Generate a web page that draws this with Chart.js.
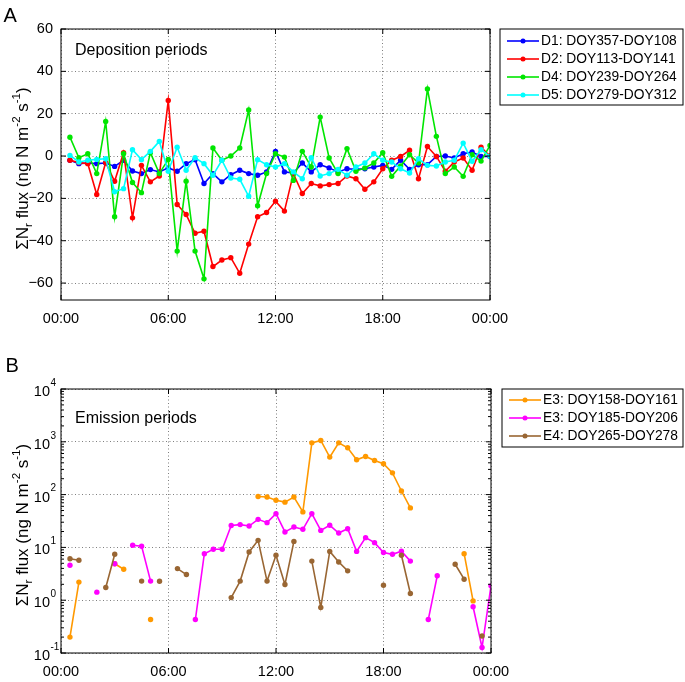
<!doctype html>
<html>
<head>
<meta charset="UTF-8">
<title>Nr flux diurnal courses</title>
<script src="https://cdn.jsdelivr.net/npm/chart.js@4.4.0/dist/chart.umd.min.js"></script>
<style>
  body { margin: 0; background: #fff; }
  #wrap { position: relative; width: 685px; height: 682px; }
  #wrap canvas { position: absolute; left: 0; }
</style>
</head>
<body>
<div id="wrap">
  <canvas id="chartA" width="685" height="341" style="top:0"></canvas>
  <canvas id="chartB" width="685" height="341" style="top:341px"></canvas>
</div>
<script>
// half-hourly time of day (h)
var HOURS = [0.5, 1, 1.5, 2, 2.5, 3, 3.5, 4, 4.5, 5, 5.5, 6,
             6.5, 7, 7.5, 8, 8.5, 9, 9.5, 10, 10.5, 11, 11.5, 12,
             12.5, 13, 13.5, 14, 14.5, 15, 15.5, 16, 16.5, 17, 17.5, 18,
             18.5, 19, 19.5, 20, 20.5, 21, 21.5, 22, 22.5, 23, 23.5, 24];
var X_TICKS = [0, 6, 12, 18, 24];

// panel A - deposition periods (ng N m-2 s-1)
var LABELS_A = ['D1: DOY357-DOY108', 'D2: DOY113-DOY141', 'D4: DOY239-DOY264', 'D5: DOY279-DOY312'];
var D1 = [-2, -3.6, -3.3, -3.6, -3.3, -4.9, -2, -7.1, -8.3, -6.4, -7.5, -5.6,
          -7.2, -3.6, -1.7, -13, -8.3, -12.2, -8.8, -6.7, -8.3, -9.1, -7.5, 2.2,
          -7.5, -8, -3.3, -7.5, -4.1, -5.6, -7.5, -6, -6.3, -6, -5.2, -4.4,
          -6.3, -2, -6.3, -4.1, -4.1, -0.2, 0, -0.9, 1.1, 1.9, -0.2, -0.2];
var D2 = [-2, -3.1, -3.6, -18.2, -3.1, -11.9, 1.6, -29.2, -4.4, -12.2, -9.4, 26.2,
          -22.9, -27.6, -36.5, -35.5, -52.2, -49.1, -48, -55.4, -41.6, -28.7, -26.7, -21.3,
          -26, -8.3, -17.7, -13, -14.1, -13.5, -13, -9.4, -10.7, -15.7, -12.2, -6,
          -2, -0.2, 2.7, -10.7, 4.5, -0.2, -7.2, -2.8, -0.9, -6.7, 4.2, 0];
var D4 = [8.9, -0.8, 1.1, -8.3, 16.3, -28.7, 1.1, -12.5, -17.3, 1.6, -8.3, -1.6,
          -44.9, -11.9, -44.9, -58, 3.8, -2, 0, 3.8, 21.8, -23.5, -8.3, 1.1,
          -0.5, -11.5, 2.2, -5.2, 18.4, -0.9, -8.3, 3.5, -7.2, -5.6, -3.3, 1.6,
          -9.6, -4.7, 0.6, -3.3, 31.7, 9.3, -8.3, -5.2, -9.6, 0.6, -2.4, 5];
var D5 = [0.3, -2.8, -2, -1.6, -1.3, -16.9, -15.4, 3, -1.7, 2.2, 6.9, -7.2,
          4.2, -6.7, -0.8, -3.6, -9.1, -2, -10.4, -11, -19, -1.7, -4.1, -5.2,
          -3.6, -7.5, -10.7, -0.8, -9.4, -8.3, -6.3, -9.1, -5.2, -3.3, 1.1, -2,
          -2.8, -6, -8, -1.3, -4.4, -4.7, -2.8, -2, 6.1, -2.5, 3, -0.2];
var Y_TICKS_A = [-60, -40, -20, 0, 20, 40, 60];

// panel B - emission periods (ng N m-2 s-1), null = no data
var LABELS_B = ['E3: DOY158-DOY161', 'E3: DOY185-DOY206', 'E4: DOY265-DOY278'];
var E3a = [0.2, 2.2, null, null, null, 4.9, 3.85, null, null, 0.43, null, null,
           null, null, null, null, null, null, null, null, null, 92, 90, 78,
           72, 90, 47, 955, 1060, 513, 955, 770, 456, 528, 443, 385,
           258, 117, 56, null, null, null, null, null, 7.6, 0.97, null, null];
var E3b = [4.6, null, null, 1.42, null, 4.9, null, 11, 10.5, 2.3, null, null,
           null, null, 0.43, 7.6, 9.2, 9.2, 26, 27, 25.4, 34, 29.4, 43.5,
           19.6, 24.3, 22, 43.5, 21, 26.2, 18.7, 22.6, 8.4, 15.3, 12.3, 8,
           7.4, 8.5, 5.5, null, 0.43, 2.9, null, null, null, 0.75, 0.127, 1.87];
var E4 = [6.1, 5.7, null, null, 1.74, 7.4, null, null, 2.3, null, 2.29, null,
          3.97, 3.06, null, null, null, null, 1.12, 2.3, 8.2, 13.6, 2.3, 7.1,
          1.98, 13, null, 5.5, 0.73, 8.4, 5.3, 3.6, null, null, null, 1.92,
          null, 7.1, 1.34, null, null, null, null, 4.8, 2.5, null, 0.21, null];
var Y_TICKS_B = [0.1, 1, 10, 100, 1000, 10000];

var FONT = '"Liberation Sans", Arial, sans-serif';
Chart.defaults.font.family = FONT;
Chart.defaults.color = '#000';

function series(label, vals, color, order) {
  return {
    label: label,
    data: vals.map(function (v, i) { return {x: HOURS[i], y: v}; }),
    borderColor: color,
    backgroundColor: color,
    borderWidth: 1.6,
    pointRadius: 2.7,
    pointBorderWidth: 0,
    pointHoverRadius: 2.7,
    tension: 0,
    spanGaps: false,
    order: order
  };
}

function hhmm(v) {
  var h = v % 24;
  return (h < 10 ? '0' : '') + h + ':00';
}

// frame, inward ticks, panel letter, note and axis title
var decor = {
  id: 'decor',
  afterDraw: function (chart, args, o) {
    var ctx = chart.ctx, a = chart.chartArea;
    var xs = chart.scales.x, ys = chart.scales.y;
    ctx.save();
    ctx.strokeStyle = '#000';
    ctx.lineWidth = 1;
    ctx.strokeRect(a.left, a.top, a.right - a.left, a.bottom - a.top);
    ctx.beginPath();
    xs.ticks.forEach(function (t) {
      var px = xs.getPixelForValue(t.value);
      ctx.moveTo(px, a.bottom); ctx.lineTo(px, a.bottom - 5);
      ctx.moveTo(px, a.top); ctx.lineTo(px, a.top + 5);
    });
    ys.ticks.forEach(function (t) {
      var py = ys.getPixelForValue(t.value);
      ctx.moveTo(a.left, py); ctx.lineTo(a.left + 5, py);
      ctx.moveTo(a.right, py); ctx.lineTo(a.right - 5, py);
    });
    if (o.log) {
      for (var d = 0; d < Y_TICKS_B.length - 1; d++) {
        for (var m = 2; m <= 9; m++) {
          var py = ys.getPixelForValue(Y_TICKS_B[d] * m);
          ctx.moveTo(a.left, py); ctx.lineTo(a.left + 3, py);
          ctx.moveTo(a.right, py); ctx.lineTo(a.right - 3, py);
        }
      }
    }
    ctx.stroke();

    ctx.fillStyle = '#000';
    if (o.log) {
      Y_TICKS_B.forEach(function (v) {
        var py = ys.getPixelForValue(v);
        var ex = String(Math.round(Math.log10(v)));
        ctx.font = '14.5px ' + FONT;
        ctx.textAlign = 'right';
        ctx.textBaseline = 'middle';
        ctx.fillText('10', 50, py + 3);
        ctx.font = '10px ' + FONT;
        ctx.textAlign = 'left';
        ctx.fillText(ex, 50.5, py - 6);
      });
    }

    ctx.textAlign = 'left';
    ctx.textBaseline = 'alphabetic';
    ctx.font = '20px ' + FONT;
    ctx.fillText(o.letter, o.letterX, o.letterY);
    ctx.font = '16px ' + FONT;
    ctx.fillText(o.note, a.left + 14, o.noteY);

    // y axis title with sub/superscripts
    var fs = 17;
    var parts = [['\u03A3N', 0], ['r', -1], [' flux (ng N m', 0], ['-2', 1], [' s', 0], ['-1', 1], [')', 0]];
    ctx.save();
    ctx.translate(28, (a.top + a.bottom) / 2 + 4);
    ctx.rotate(-Math.PI / 2);
    var total = 0;
    parts.forEach(function (p) {
      ctx.font = (p[1] ? fs * 0.68 : fs) + 'px ' + FONT;
      total += ctx.measureText(p[0]).width;
    });
    var cx = -total / 2;
    parts.forEach(function (p) {
      ctx.font = (p[1] ? fs * 0.68 : fs) + 'px ' + FONT;
      var dy = p[1] === 1 ? -fs * 0.45 : (p[1] === -1 ? fs * 0.25 : 0);
      ctx.fillText(p[0], cx, dy);
      cx += ctx.measureText(p[0]).width;
    });
    ctx.restore();
    ctx.restore();
  }
};

// boxed legend at the right of the axes
var boxLegend = {
  id: 'boxLegend',
  afterDraw: function (chart, args, o) {
    var ctx = chart.ctx;
    ctx.save();
    ctx.fillStyle = '#fff';
    ctx.fillRect(o.x, o.y, o.w, o.h);
    ctx.strokeStyle = '#000';
    ctx.lineWidth = 1;
    ctx.strokeRect(o.x, o.y, o.w, o.h);
    ctx.font = '13.8px ' + FONT;
    ctx.textBaseline = 'middle';
    ctx.textAlign = 'left';
    chart.data.datasets.forEach(function (ds, i) {
      var ry = o.row0 + i * o.rowH;
      ctx.strokeStyle = ds.borderColor;
      ctx.lineWidth = 1.6;
      ctx.beginPath();
      ctx.moveTo(o.x + 7, ry); ctx.lineTo(o.x + 39, ry);
      ctx.stroke();
      ctx.fillStyle = ds.borderColor;
      ctx.beginPath();
      ctx.arc(o.x + 23, ry, 2.5, 0, Math.PI * 2);
      ctx.fill();
      ctx.fillStyle = '#000';
      ctx.fillText(ds.label, o.x + 41, ry + 0.5);
    });
    ctx.restore();
  }
};

function xAxis(h) {
  return {
    type: 'linear', min: 0, max: 24,
    afterBuildTicks: function (s) { s.ticks = X_TICKS.map(function (v) { return {value: v}; }); },
    afterFit: function (s) { s.height = h; },
    ticks: { callback: hhmm, font: {size: 14.5}, padding: 10, maxRotation: 0, autoSkip: false },
    grid: { color: 'rgba(0,0,0,0.5)', lineWidth: 1, drawTicks: false },
    border: { display: false, dash: [1, 2.5] }
  };
}

var configA = {
  type: 'line',
  data: {
    datasets: [
      series(LABELS_A[0], D1, '#0000ff', 4),
      series(LABELS_A[1], D2, '#ff0000', 3),
      series(LABELS_A[2], D4, '#00e600', 2),
      series(LABELS_A[3], D5, '#00ffff', 1)
    ]
  },
  options: {
    responsive: false,
    animation: false,
    events: [],
    layout: { padding: {top: 29, right: 195, left: 0, bottom: 0} },
    scales: {
      x: xAxis(41),
      y: {
        type: 'linear', min: -68, max: 60,
        afterBuildTicks: function (s) { s.ticks = Y_TICKS_A.map(function (v) { return {value: v}; }); },
        afterFit: function (s) { s.width = 61; },
        ticks: {
          font: {size: 14.5}, padding: 8,
          callback: function (v) { return v < 0 ? '\u2212' + Math.abs(v) : String(v); }
        },
        grid: { color: 'rgba(0,0,0,0.5)', lineWidth: 1, drawTicks: false },
        border: { display: false, dash: [1, 2.5] }
      }
    },
    plugins: {
      legend: { display: false },
      tooltip: { enabled: false },
      decor: { letter: 'A', letterX: 3.5, letterY: 22, note: 'Deposition periods', noteY: 55 },
      boxLegend: { x: 500, y: 29, w: 183, h: 76, row0: 41, rowH: 18 }
    }
  },
  plugins: [decor, boxLegend]
};

var configB = {
  type: 'line',
  data: {
    datasets: [
      series(LABELS_B[0], E3a, '#ff9900', 3),
      series(LABELS_B[1], E3b, '#ff00ff', 2),
      series(LABELS_B[2], E4, '#996633', 1)
    ]
  },
  options: {
    responsive: false,
    animation: false,
    events: [],
    layout: { padding: {top: 48, right: 194, left: 0, bottom: 0} },
    scales: {
      x: xAxis(29),
      y: {
        type: 'logarithmic', min: 0.1, max: 10000,
        afterBuildTicks: function (s) { s.ticks = Y_TICKS_B.map(function (v) { return {value: v}; }); },
        afterFit: function (s) { s.width = 61; },
        ticks: { display: false },
        grid: { color: 'rgba(0,0,0,0.5)', lineWidth: 1, drawTicks: false },
        border: { display: false, dash: [1, 2.5] }
      }
    },
    plugins: {
      legend: { display: false },
      tooltip: { enabled: false },
      decor: { letter: 'B', letterX: 5.5, letterY: 31, note: 'Emission periods', noteY: 82, log: true },
      boxLegend: { x: 502, y: 48, w: 181, h: 58, row0: 59, rowH: 18 }
    }
  },
  plugins: [decor, boxLegend]
};

window.chartA = new Chart(document.getElementById('chartA').getContext('2d'), configA);
window.chartB = new Chart(document.getElementById('chartB').getContext('2d'), configB);
</script>
</body>
</html>
